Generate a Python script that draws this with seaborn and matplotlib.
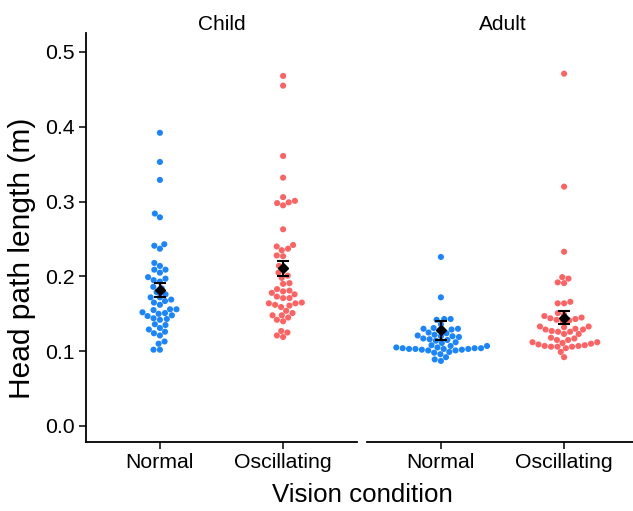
import numpy as np
import pandas as pd
import seaborn as sns
import matplotlib.pyplot as plt

# values
child_normal = [0.392, 0.353, 0.329, 0.284, 0.279, 0.243, 0.241, 0.237, 0.218, 0.214,
                0.209, 0.209, 0.205, 0.199, 0.197, 0.195, 0.193, 0.186, 0.184, 0.179,
                0.176, 0.172, 0.172, 0.169, 0.167, 0.165, 0.162, 0.156, 0.156, 0.155,
                0.152, 0.151, 0.150, 0.148, 0.147, 0.144, 0.143, 0.142, 0.136, 0.135,
                0.131, 0.129, 0.126, 0.124, 0.121, 0.113, 0.110, 0.102, 0.102]
child_osc = [0.468, 0.455, 0.361, 0.332, 0.306, 0.301, 0.299, 0.298, 0.295, 0.263,
             0.242, 0.240, 0.237, 0.235, 0.228, 0.227, 0.214, 0.209, 0.205, 0.201,
             0.198, 0.191, 0.190, 0.183, 0.181, 0.180, 0.178, 0.176, 0.173, 0.171,
             0.171, 0.165, 0.164, 0.164, 0.162, 0.161, 0.159, 0.154, 0.151, 0.148,
             0.148, 0.145, 0.142, 0.140, 0.127, 0.125, 0.121, 0.119]
adult_normal = [0.226, 0.172, 0.143, 0.143, 0.142, 0.136, 0.131, 0.130, 0.130, 0.129,
                0.128, 0.125, 0.124, 0.122, 0.121, 0.120, 0.120, 0.119, 0.117, 0.116,
                0.115, 0.114, 0.112, 0.111, 0.108, 0.107, 0.105, 0.104, 0.103, 0.103,
                0.102, 0.101, 0.099, 0.098, 0.096, 0.101, 0.102, 0.103, 0.103, 0.104,
                0.104, 0.105, 0.107, 0.092, 0.089, 0.087]
adult_osc = [0.471, 0.320, 0.233, 0.199, 0.197, 0.192, 0.191, 0.166, 0.164, 0.164,
             0.151, 0.149, 0.147, 0.145, 0.144, 0.143, 0.142, 0.141, 0.140, 0.133,
             0.133, 0.132, 0.130, 0.129, 0.129, 0.127, 0.126, 0.126, 0.123, 0.123,
             0.117, 0.118, 0.115, 0.115, 0.112, 0.112, 0.111, 0.110, 0.109, 0.108,
             0.107, 0.107, 0.106, 0.106, 0.106, 0.104, 0.099, 0.092]

conditions = ["Normal", "Oscillating"]
groups = ["Child", "Adult"]
# mean and error bar ends (as drawn)
mean_vals = {"Child": [0.182, 0.211], "Adult": [0.128, 0.145]}
low_vals = {"Child": [0.173, 0.200], "Adult": [0.115, 0.136]}
high_vals = {"Child": [0.191, 0.221], "Adult": [0.141, 0.154]}
ytick_vals = [0.0, 0.1, 0.2, 0.3, 0.4, 0.5]
ytick_labels = ["0.0", "0.1", "0.2", "0.3", "0.4", "0.5"]

rows = []
for grp, cond, vals in [("Child", "Normal", child_normal), ("Child", "Oscillating", child_osc),
                        ("Adult", "Normal", adult_normal), ("Adult", "Oscillating", adult_osc)]:
    for v in vals:
        rows.append((grp, cond, v))
df = pd.DataFrame(rows, columns=["group", "condition", "length"])

sns.set_style("ticks")
plt.rcParams['font.family'] = ['Liberation Sans', 'DejaVu Sans']
plt.rcParams['text.color'] = 'black'
plt.rcParams['axes.labelcolor'] = 'black'

palette = {"Normal": "#1a85ff", "Oscillating": "#ff6262"}

fig = plt.figure(figsize=(6.33, 5.11), dpi=100)
W, H = 633.0, 511.0
for i, grp in enumerate(groups):
    left = [86, 367][i]
    ax = fig.add_axes([left / W, (H - 442) / H, 271 / W, 409 / H])
    sub = df[df["group"] == grp]
    sns.swarmplot(data=sub, x="condition", y="length", hue="condition", order=conditions,
                  palette=palette, size=4.4, legend=False, ax=ax, linewidth=0, warn_thresh=1)
    m = np.array(mean_vals[grp])
    err = [m - np.array(low_vals[grp]), np.array(high_vals[grp]) - m]
    ax.errorbar([0, 1], m, yerr=err, fmt="D", color="black", markersize=5.5,
                capsize=4.5, elinewidth=1.5, capthick=1.5, zorder=5)
    ax.set_xlim(-0.6, 1.6)
    ax.set_ylim(-0.0214, 0.5254)
    ax.set_yticks(ytick_vals)
    ax.set_xlabel("")
    ax.set_ylabel("")
    ax.tick_params(axis="both", labelsize=15.3, length=5, width=1.1, colors="black",
                   labelcolor="black", pad=3)
    ax.text(0.5, 1.022, grp, transform=ax.transAxes, ha="center", va="center", fontsize=15)
    sns.despine(ax=ax)
    for s in ["left", "bottom"]:
        ax.spines[s].set_linewidth(1.3)
        ax.spines[s].set_color("black")
    if i == 1:
        ax.spines["left"].set_visible(False)
        ax.tick_params(axis="y", left=False, labelleft=False)
    else:
        ax.set_yticklabels(ytick_labels)

fig.text(22 / W, (H - 258) / H, "Head path length (m)", rotation=90, ha="center",
         va="center", fontsize=21.5)
fig.text(362 / W, (H - 495) / H, "Vision condition", ha="center", va="center", fontsize=18.6)

fig.savefig("out.png", dpi=100)
